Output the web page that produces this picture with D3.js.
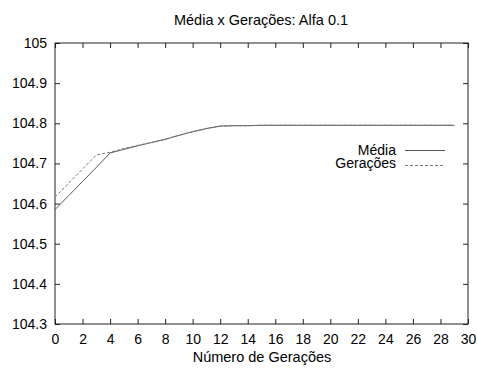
<!DOCTYPE html>
<html>
<head>
<meta charset="utf-8">
<script src="https://cdn.jsdelivr.net/npm/d3@7"></script>
<style>
  body { margin: 0; background: #fff; }
  text { font-family: "Liberation Sans", Arial, sans-serif; fill: #000; }
</style>
</head>
<body>
<div id="chart"></div>
<script>
// generations on x, mean fitness on y
var generations = d3.range(0, 30);
var mediaValues = [104.585, 104.62, 104.655, 104.69, 104.726, 104.735, 104.744, 104.752, 104.76, 104.77,
                   104.779, 104.787, 104.793, 104.794, 104.794, 104.795, 104.795, 104.795, 104.795, 104.795,
                   104.795, 104.795, 104.795, 104.795, 104.795, 104.795, 104.795, 104.795, 104.795, 104.795];
var geracoesValues = [104.616, 104.651, 104.686, 104.721, 104.728, 104.737, 104.745, 104.752, 104.76, 104.77,
                      104.779, 104.787, 104.793, 104.794, 104.794, 104.795, 104.795, 104.795, 104.795, 104.795,
                      104.795, 104.795, 104.795, 104.795, 104.795, 104.795, 104.795, 104.795, 104.795, 104.795];
var xTicks = d3.range(0, 31, 2);
var yTicks = [104.3, 104.4, 104.5, 104.6, 104.7, 104.8, 104.9, 105];
var seriesNames = ["Média", "Gerações"];

var width = 477, height = 368;
var plotLeft = 55, plotRight = 468, plotTop = 43, plotBottom = 324;  // "top" clashes with window.top

var svg = d3.select("#chart").append("svg")
  .attr("width", width)
  .attr("height", height);

var x = d3.scaleLinear().domain([0, 30]).range([plotLeft, plotRight]);
var y = d3.scaleLinear().domain([104.3, 105]).range([plotBottom, plotTop]);

// frame
svg.append("rect")
  .attr("x", plotLeft).attr("y", plotTop)
  .attr("width", plotRight - plotLeft).attr("height", plotBottom - plotTop)
  .attr("fill", "none").attr("stroke", "#222").attr("stroke-width", 1);

// ticks, mirrored on both sides (gnuplot style)
var tickLen = 5;
var gx = svg.append("g").attr("transform", "translate(0," + plotBottom + ")")
  .call(d3.axisBottom(x).tickValues(xTicks).tickSizeInner(-tickLen).tickSizeOuter(0).tickPadding(10));
var gxTop = svg.append("g").attr("transform", "translate(0," + plotTop + ")")
  .call(d3.axisTop(x).tickValues(xTicks).tickSizeInner(-tickLen).tickSizeOuter(0).tickFormat(""));
var gy = svg.append("g").attr("transform", "translate(" + plotLeft + ",0)")
  .call(d3.axisLeft(y).tickValues(yTicks).tickSizeInner(-tickLen).tickSizeOuter(0).tickPadding(8)
    .tickFormat(function (d) { return d3.format("")(+d.toFixed(1)); }));
var gyRight = svg.append("g").attr("transform", "translate(" + plotRight + ",0)")
  .call(d3.axisRight(y).tickValues(yTicks).tickSizeInner(-tickLen).tickSizeOuter(0).tickFormat(""));

[gx, gxTop, gy, gyRight].forEach(function (g) {
  g.select(".domain").remove();
  g.selectAll(".tick line").attr("stroke", "#222");
  g.selectAll("text").style("font-size", "14px").attr("fill", "#000")
    .style("font-family", "'Liberation Sans', Arial, sans-serif");
});

// lines
var line = d3.line()
  .x(function (d, i) { return x(generations[i]); })
  .y(function (d) { return y(d); });

svg.append("path")
  .datum(mediaValues)
  .attr("d", line)
  .attr("fill", "none")
  .attr("stroke", "#555")
  .attr("stroke-width", 1);

svg.append("path")
  .datum(geracoesValues)
  .attr("d", line)
  .attr("fill", "none")
  .attr("stroke", "#777")
  .attr("stroke-width", 1)
  .attr("stroke-dasharray", "3,2");

// legend
var legend = svg.append("g");
seriesNames.forEach(function (name, i) {
  legend.append("text")
    .attr("x", 396).attr("y", 155 + i * 13)
    .attr("text-anchor", "end")
    .style("font-size", "14px")
    .text(name);
  legend.append("line")
    .attr("x1", 405).attr("x2", 445)
    .attr("y1", 150.5 + i * 15).attr("y2", 150.5 + i * 15)
    .attr("stroke", i == 0 ? "#555" : "#777")
    .attr("stroke-width", 1)
    .attr("stroke-dasharray", i == 0 ? null : "3,2");
});

// title and axis label
svg.append("text")
  .attr("x", 261).attr("y", 25)
  .attr("text-anchor", "middle")
  .style("font-size", "14.5px")
  .text("Média x Gerações: Alfa 0.1");

svg.append("text")
  .attr("x", 262).attr("y", 361.5)
  .attr("text-anchor", "middle")
  .style("font-size", "14.5px")
  .text("Número de Gerações");
</script>
</body>
</html>
